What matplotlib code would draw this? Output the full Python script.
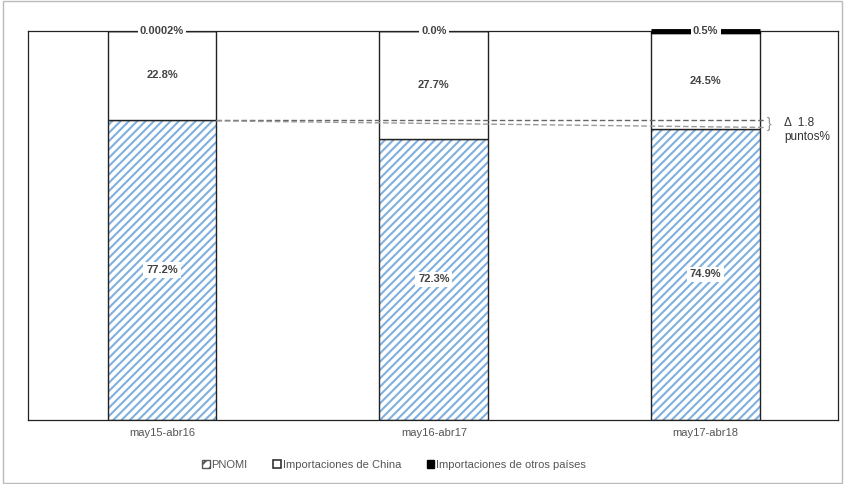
import matplotlib
matplotlib.use("Agg")
import matplotlib.pyplot as plt
from matplotlib.patches import Rectangle

plt.rcParams['font.family'] = ['Liberation Sans', 'DejaVu Sans']
plt.rcParams['hatch.linewidth'] = 1.5

categories = ['may15-abr16', 'may16-abr17', 'may17-abr18']
pnomi = [77.2, 72.3, 74.9]
china = [22.8, 27.7, 24.5]
otros = [0.0002, 0.0, 0.5]
pnomi_labels = ['77.2%', '72.3%', '74.9%']
china_labels = ['22.8%', '27.7%', '24.5%']
otros_labels = ['0.0002%', '0.0%', '0.5%']
delta_text = 'Δ  1.8\npuntos%'
legend_labels = ['PNOMI', 'Importaciones de China', 'Importaciones de otros países']

HATCH_BLUE = '#7fb0e0'

fig = plt.figure(figsize=(8.45, 4.84), dpi=100)
ax = fig.add_axes([28/845, 64/484, 810/845, 389/484])
x = list(range(len(categories)))
w = 0.4
# hatched fill (hatch colour follows edgecolor), then dark outline
ax.bar(x, pnomi, w, color='white', edgecolor=HATCH_BLUE, hatch='////', linewidth=0)
ax.bar(x, pnomi, w, fill=False, edgecolor='#222222', linewidth=1.0)
ax.bar(x, china, w, bottom=pnomi, color='white', edgecolor='#222222', linewidth=1.0)
bot3 = [p + c for p, c in zip(pnomi, china)]
ax.bar(x, otros, w, bottom=bot3, color='black', edgecolor='black', linewidth=1.0)
for xi, o in zip(x, otros):
    if o >= 0.1:
        ax.plot([xi - w/2, xi + w/2], [100, 100], color='black', lw=3.5, solid_capstyle='butt', zorder=4, clip_on=False)

for xi, p, c, pl, cl, ol in zip(x, pnomi, china, pnomi_labels, china_labels, otros_labels):
    ax.text(xi, p/2, pl, ha='center', va='center', fontsize=8, fontweight='bold', color='#444444',
            bbox=dict(boxstyle='square,pad=0.25', fc='white', ec='none'), zorder=5)
    ax.text(xi, p + c/2, cl, ha='center', va='center', fontsize=8, fontweight='bold', color='#444444', zorder=5)
    ax.text(xi, 100, ol, ha='center', va='center', fontsize=8, fontweight='bold', color='#444444',
            bbox=dict(boxstyle='square,pad=0.2', fc='white', ec='none'), zorder=6, clip_on=False)

# dashed comparison lines
ax.plot([x[0] + w/2, x[2] + w/2 + 0.02], [pnomi[0], pnomi[0]], ls=(0, (4, 2)), color='#666666', lw=1.0, zorder=3)
ax.plot([x[0] + w/2, x[2] + w/2 + 0.02], [pnomi[0] - 0.3, pnomi[2] + 0.3], ls=(0, (4, 2)), color='#999999', lw=1.0, zorder=3)
ax.text(x[2] + w/2 + 0.025, (pnomi[0] + pnomi[2]) / 2, '}', ha='left', va='center', fontsize=10, color='#888888')
ax.text(x[2] + w/2 + 0.09, (pnomi[0] + pnomi[2]) / 2 - 1.5, delta_text, ha='left', va='center', fontsize=8.5,
        color='#333333', linespacing=1.15)

ax.set_xlim(-0.493, 2.487)
ax.set_ylim(0, 100)
ax.set_yticks([])
ax.set_xticks(x)
ax.set_xticklabels(categories, fontsize=8, color='#555555')
ax.tick_params(axis='x', length=0, pad=6)
for s in ax.spines.values():
    s.set_color('#222222')
    s.set_linewidth(0.9)

handles = [Rectangle((0, 0), 1, 1, fc='white', ec='#555555', hatch='///', lw=1.0),
           Rectangle((0, 0), 1, 1, fc='white', ec='#333333', lw=1.2),
           Rectangle((0, 0), 1, 1, fc='black', ec='black', lw=1.0)]
leg = fig.legend(handles=handles, labels=legend_labels, loc='center', bbox_to_anchor=(394/845, 1 - 465/484),
                 ncol=3, frameon=False, fontsize=8, handlelength=0.7, handleheight=0.7, handletextpad=0.15,
                 columnspacing=2.3)
for t in leg.get_texts():
    t.set_color('#555555')

fig.patches.append(Rectangle((0.003, 0.003), 0.994, 0.994, transform=fig.transFigure, fill=False,
                             ec='#bbbbbb', lw=1.0))
fig.savefig('out.png', dpi=100)
